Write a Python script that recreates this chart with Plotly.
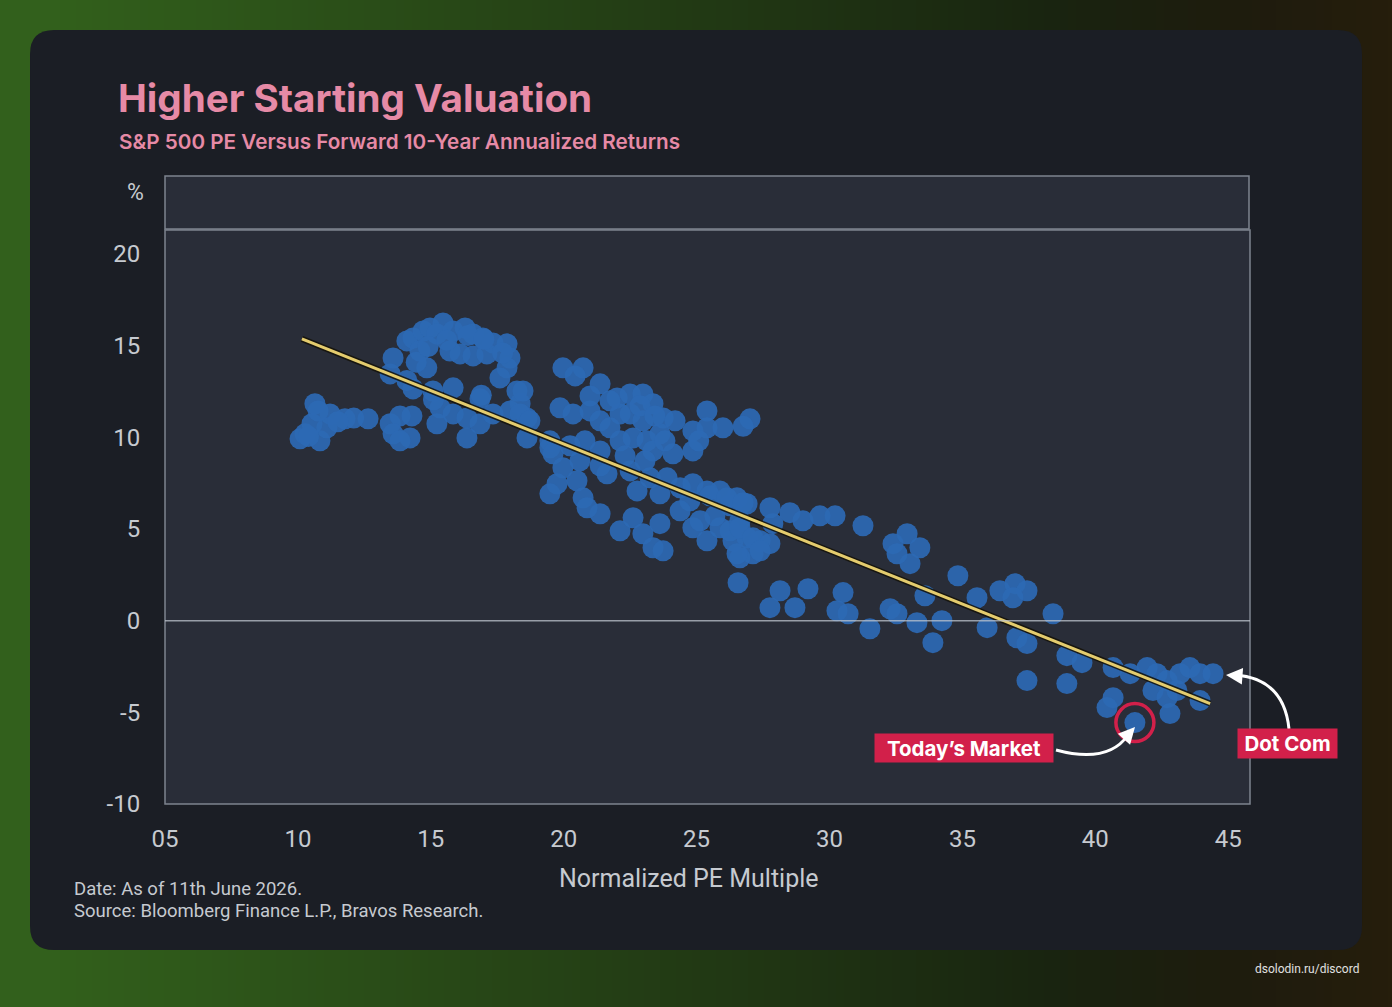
import plotly.graph_objects as go
import numpy as np
import zlib, struct, base64

# ---------------- data ----------------
pe_multiple = [
    10.64, 10.27, 10.83, 11.21, 11.77, 11.09, 10.53, 12.64, 13.47, 13.84, 14.29, 13.58, 14.22, 13.84, 10.08, 10.76,
    13.58, 13.47, 14.10, 14.33, 14.71, 14.97, 15.46, 15.23, 15.84, 16.29, 16.59, 16.96, 17.34, 17.87, 17.98, 17.87,
    17.60, 15.72, 16.10, 16.59, 17.11, 14.59, 14.85, 14.33, 15.08, 15.84, 16.85, 18.24, 15.35, 15.23, 15.84, 16.36,
    16.85, 16.36, 17.34, 17.98, 18.36, 18.62, 18.62, 19.48,
    19.97, 20.73, 20.43, 21.37, 18.47, 18.36, 18.73, 19.86, 20.35, 20.99, 21.37, 22.01, 22.50, 22.98, 23.36, 23.74,
    22.12, 21.74, 22.12, 22.61, 23.13, 23.62, 23.36, 24.11, 22.50, 22.98, 25.39, 24.86, 25.39, 25.99, 27.01, 24.86,
    19.48, 19.60, 19.97, 20.61, 19.75, 19.48, 20.50, 20.73, 21.37, 20.88, 21.63, 22.50, 22.76, 23.25, 23.62, 23.89,
    24.38, 24.86, 25.39, 25.88, 26.52, 26.90, 22.12, 22.61, 22.98, 23.62, 23.36, 23.74, 24.86, 25.39, 25.88, 26.37,
    26.90, 27.39, 27.87, 27.12, 26.63,
    20.99, 21.74, 22.87, 23.43, 24.19, 20.80, 21.37, 22.31, 23.06, 23.81, 25.08, 20.24, 21.37,
    24.75, 25.50, 26.26, 25.69, 26.63, 25.13, 24.38,
    26.14, 26.75, 27.76, 28.51, 29.00, 29.64, 30.21, 31.26, 26.26, 26.63, 27.12, 27.76, 26.52, 27.39,
    32.39, 32.92, 33.40, 33.03, 32.54, 26.56, 28.14, 29.19, 27.76, 28.70, 30.51, 30.28, 30.70, 32.28, 32.54,
    31.52, 33.29, 34.23, 33.89, 34.83, 35.55, 36.41, 36.98, 37.43, 36.90, 35.93, 37.05, 37.43, 33.59,
    38.41, 38.93, 39.50, 37.43, 38.93, 40.67, 41.31, 41.95, 42.32, 42.70, 43.19, 43.56, 43.94, 44.43,
    42.17, 42.70, 43.07, 40.67, 40.44, 42.81, 43.94, 41.49,
    14.45, 14.90, 15.60, 16.40, 17.00, 17.70, 14.10, 15.10, 16.90, 12.10, 10.40, 11.50, 26.75,
]
fwd_return = [
    11.83, 10.19, 9.81, 11.28, 11.01, 10.52, 10.74, 11.01, 10.74, 11.17, 11.17, 10.19, 9.97, 9.81, 9.92, 11.44,
    14.33, 13.46, 15.26, 15.42, 15.80, 15.97, 16.24, 15.64, 15.80, 15.97, 15.64, 15.42, 15.15, 15.10, 14.33, 13.79,
    13.24, 14.71, 14.55, 14.44, 14.55, 14.71, 13.79, 12.64, 12.53, 12.70, 12.10, 12.53, 11.61, 10.74, 11.28, 11.06,
    10.74, 9.97, 11.28, 11.44, 11.83, 11.06, 9.97, 9.81,
    13.79, 13.79, 13.35, 12.92, 12.53, 11.28, 10.90, 11.61, 11.28, 11.44, 10.90, 12.15, 12.37, 12.37, 11.83, 11.06,
    11.28, 10.52, 9.81, 9.97, 9.81, 10.19, 9.26, 9.10, 11.28, 10.90, 11.44, 10.35, 10.52, 10.52, 11.01, 9.26,
    9.43, 9.10, 8.34, 8.72, 7.47, 6.92, 7.63, 6.70, 5.83, 6.16, 8.01, 8.17, 7.08, 7.79, 6.92, 7.79,
    7.25, 7.47, 7.08, 7.08, 6.70, 6.38, 4.90, 5.61, 4.74, 5.29, 3.98, 3.81, 5.07, 4.36, 5.07, 4.36,
    4.52, 4.36, 5.29, 3.65, 3.43,
    12.26, 11.99, 11.72, 11.17, 10.90, 9.81, 9.26, 8.99, 8.72, 9.81, 9.81, 9.54, 8.45,
    6.54, 6.81, 6.27, 5.72, 5.45, 5.45, 5.99,
    6.70, 6.43, 6.16, 5.89, 5.45, 5.72, 5.72, 5.18, 4.90, 5.07, 4.52, 4.20, 3.65, 3.81,
    4.20, 4.74, 3.98, 3.11, 3.65, 2.07, 1.63, 1.74, 0.71, 0.71, 1.53, 0.54, 0.38, 0.65, 0.38,
    -0.44, -0.11, 0.00, -1.20, 2.45, 1.25, 1.63, 2.02, 1.63, 1.25, -0.38, -0.93, -1.25, 1.36,
    0.38, -1.91, -2.29, -3.27, -3.43, -2.56, -2.89, -2.56, -2.89, -3.27, -2.89, -2.56, -2.89, -2.89,
    -3.81, -4.20, -3.81, -4.20, -4.74, -5.07, -4.36, -5.56,
    14.10, 14.95, 15.30, 15.55, 15.35, 14.60, 13.10, 12.05, 12.30, 11.05, 10.05, 10.85, 10.60,
]
trend_pe = [10.15, 44.32]
trend_ret = [15.37, -4.52]
todays_market = (41.49, -5.56)

x_ticks = [5, 10, 15, 20, 25, 30, 35, 40, 45]
x_tick_text = ["05", "10", "15", "20", "25", "30", "35", "40", "45"]
y_ticks = [-10, -5, 0, 5, 10, 15, 20]
y_tick_text = ["-10", "-5", "0", "5", "10", "15", "20"]

title_text = "Higher Starting Valuation"
subtitle_text = "S&P 500 PE Versus Forward 10-Year Annualized Returns"
x_title = "Normalized PE Multiple"
footer_1 = "Date: As of 11th June 2026."
footer_2 = "Source: Bloomberg Finance L.P., Bravos Research."
watermark = "dsolodin.ru/discord"

# ---------------- geometry ----------------
W, H = 1392, 1007
L, R, T, B = 165, 1250, 230, 804
X_RANGE = [5, 5 + (R - L) / 26.58]
Y_RANGE = [-10, 21.31]


def pxx(x):
    return (x - L) / (R - L)


def pxy(y):
    return (B - y) / (B - T)


def rrect(x0, y0, x1, y1, r):
    pts = [("M", x0 + r, y0), ("L", x1 - r, y0), ("Q", x1, y0, x1, y0 + r), ("L", x1, y1 - r),
           ("Q", x1, y1, x1 - r, y1), ("L", x0 + r, y1), ("Q", x0, y1, x0, y1 - r), ("L", x0, y0 + r),
           ("Q", x0, y0, x0 + r, y0)]
    s = ""
    for p in pts:
        if p[0] == "Q":
            s += "Q%.5f,%.5f %.5f,%.5f " % (pxx(p[1]), pxy(p[2]), pxx(p[3]), pxy(p[4]))
        else:
            s += "%s%.5f,%.5f " % (p[0], pxx(p[1]), pxy(p[2]))
    return s + "Z"


def qpath(p0, c, p1):
    return "M%.5f,%.5f Q%.5f,%.5f %.5f,%.5f" % (pxx(p0[0]), pxy(p0[1]), pxx(c[0]), pxy(c[1]), pxx(p1[0]), pxy(p1[1]))


# ---------------- background gradient image ----------------
bw, bh = 174, 126
xs = np.linspace(0, 1, bw)[None, :]
ys = np.linspace(0, 1, bh)[:, None]
green = np.array([50, 96, 28], float)
dark = np.array([20, 24, 14], float)
warm = np.array([50, 34, 12], float)
t = np.clip(xs * 1.15 - 0.05, 0, 1)[..., None]
col = green * (1 - t) + dark * t
w_amt = (np.clip((xs - 0.75) * 4, 0, 1) * np.ones_like(ys))[..., None]
col = col * (1 - 0.6 * w_amt) + warm * 0.6 * w_amt
img = np.clip(col, 0, 255).astype(np.uint8)
raw = b"".join(b"\x00" + img[r].tobytes() for r in range(bh))


def chunk(tag, data):
    c = struct.pack(">I", len(data)) + tag + data
    return c + struct.pack(">I", zlib.crc32(tag + data) & 0xffffffff)


png = b"\x89PNG\r\n\x1a\n" + chunk(b"IHDR", struct.pack(">IIBBBBB", bw, bh, 8, 2, 0, 0, 0)) + \
      chunk(b"IDAT", zlib.compress(raw, 9)) + chunk(b"IEND", b"")
bg_uri = "data:image/png;base64," + base64.b64encode(png).decode()

# ---------------- figure ----------------
CARD = "#1b1e25"
PLOTBG = "#292d38"
BORDER = "#7e848f"
PINK = "#e68aa6"
TXT = "#c6cad0"
RED = "#d2204a"

fig = go.Figure()
fig.add_trace(go.Scatter(
    x=pe_multiple, y=fwd_return, mode="markers",
    marker=dict(size=21, color="rgba(45,105,180,0.92)", line=dict(width=0)),
    hoverinfo="x+y", showlegend=False))
fig.add_trace(go.Scatter(x=trend_pe, y=trend_ret, mode="lines",
                         line=dict(color="rgba(20,18,8,0.85)", width=6), hoverinfo="skip", showlegend=False))
fig.add_trace(go.Scatter(x=trend_pe, y=trend_ret, mode="lines",
                         line=dict(color="#e4cc6e", width=3), hoverinfo="skip", showlegend=False))

shapes = [
    dict(type="path", xref="paper", yref="paper", path=rrect(30, 30, 1362, 950, 24),
         fillcolor=CARD, line=dict(width=0), layer="below"),
    dict(type="rect", xref="paper", yref="paper", x0=pxx(165), x1=pxx(1249), y0=pxy(229), y1=pxy(176),
         fillcolor=PLOTBG, line=dict(color=BORDER, width=1.5), layer="below"),
    dict(type="rect", xref="paper", yref="paper", x0=0, x1=1, y0=0, y1=1,
         fillcolor=PLOTBG, line=dict(width=0), layer="below"),
    dict(type="rect", xref="paper", yref="paper", x0=0, x1=1, y0=0, y1=1,
         fillcolor="rgba(0,0,0,0)", line=dict(color=BORDER, width=1.5), layer="above"),
    dict(type="line", xref="paper", yref="y", x0=0, x1=1, y0=0, y1=0,
         line=dict(color="rgba(190,196,206,0.75)", width=1.5), layer="above"),
    # red ring around today's market
    dict(type="circle", xref="x", yref="y", xsizemode="pixel", ysizemode="pixel",
         xanchor=todays_market[0], yanchor=todays_market[1], x0=-19, x1=19, y0=-19, y1=19,
         line=dict(color=RED, width=3.5), fillcolor="rgba(0,0,0,0)", layer="above"),
    # curved arrows
    dict(type="path", xref="paper", yref="paper", path=qpath((1056, 750), (1108, 764), (1128, 735)),
         line=dict(color="white", width=3), layer="above"),
    dict(type="path", xref="paper", yref="paper", path=qpath((1289, 729), (1284, 679), (1236, 675)),
         line=dict(color="white", width=3), layer="above"),
]

ann = [
    dict(text="<b>" + title_text + "</b>", x=pxx(116), y=pxy(98), xanchor="left", yanchor="middle",
         font=dict(family="Inter", size=38.6, color=PINK)),
    dict(text=subtitle_text, x=pxx(117), y=pxy(142), xanchor="left", yanchor="middle",
         font=dict(family="Inter", size=20.7, color=PINK, weight=600)),
    dict(text="%", x=pxx(135), y=pxy(192), xanchor="center", yanchor="middle",
         font=dict(family="Roboto", size=23, color=TXT)),
    dict(text=x_title, x=pxx(689), y=pxy(878), xanchor="center", yanchor="middle",
         font=dict(family="Roboto", size=25, color=TXT)),
    dict(text=footer_1, x=pxx(72), y=pxy(889), xanchor="left", yanchor="middle",
         font=dict(family="Roboto", size=18.5, color=TXT)),
    dict(text=footer_2, x=pxx(72), y=pxy(911), xanchor="left", yanchor="middle",
         font=dict(family="Roboto", size=18.5, color=TXT)),
    dict(text=watermark, x=pxx(1361), y=pxy(969), xanchor="right", yanchor="middle",
         font=dict(family="Roboto", size=12, color="#e0e0e0")),
    dict(text="<b>Today’s Market</b>", x=pxx(964), y=pxy(748), xanchor="center", yanchor="middle",
         font=dict(family="Inter", size=20.5, color="white"), bgcolor=RED, borderpad=0,
         width=178, height=28),
    dict(text="<b>Dot Com</b>", x=pxx(1287.5), y=pxy(743.5), xanchor="center", yanchor="middle",
         font=dict(family="Inter", size=20.5, color="white"), bgcolor=RED, borderpad=0,
         width=99, height=29),
    # arrow heads
    dict(text="", x=pxx(1135), y=pxy(727), showarrow=True, arrowhead=2, arrowsize=1.1, arrowwidth=3,
         arrowcolor="white", ax=-9, ay=10),
    dict(text="", x=pxx(1226), y=pxy(675), showarrow=True, arrowhead=2, arrowsize=1.1, arrowwidth=3,
         arrowcolor="white", ax=13, ay=1),
]
for a in ann:
    a.setdefault("xref", "paper")
    a.setdefault("yref", "paper")
    a.setdefault("showarrow", False)

fig.update_layout(
    width=W, height=H,
    margin=dict(l=L, r=W - R, t=T, b=H - B, pad=0),
    paper_bgcolor="#1f3514",
    plot_bgcolor="rgba(0,0,0,0)",
    images=[dict(source=bg_uri, xref="paper", yref="paper", x=pxx(0), y=pxy(0),
                 sizex=W / (R - L), sizey=H / (B - T), sizing="stretch",
                 xanchor="left", yanchor="top", layer="below")],
    shapes=shapes,
    annotations=ann,
    showlegend=False,
    xaxis=dict(range=X_RANGE, tickvals=x_ticks, ticktext=x_tick_text, showgrid=False, zeroline=False,
               showline=False, ticks="outside", ticklen=13, tickcolor="rgba(0,0,0,0)",
               tickfont=dict(family="Roboto", size=24, color=TXT), fixedrange=True),
    yaxis=dict(range=Y_RANGE, tickvals=y_ticks, ticktext=y_tick_text, showgrid=False, zeroline=False,
               showline=False, ticks="outside", ticklen=19, tickcolor="rgba(0,0,0,0)",
               tickfont=dict(family="Roboto", size=24, color=TXT), fixedrange=True),
)

fig.write_html("out.html")
